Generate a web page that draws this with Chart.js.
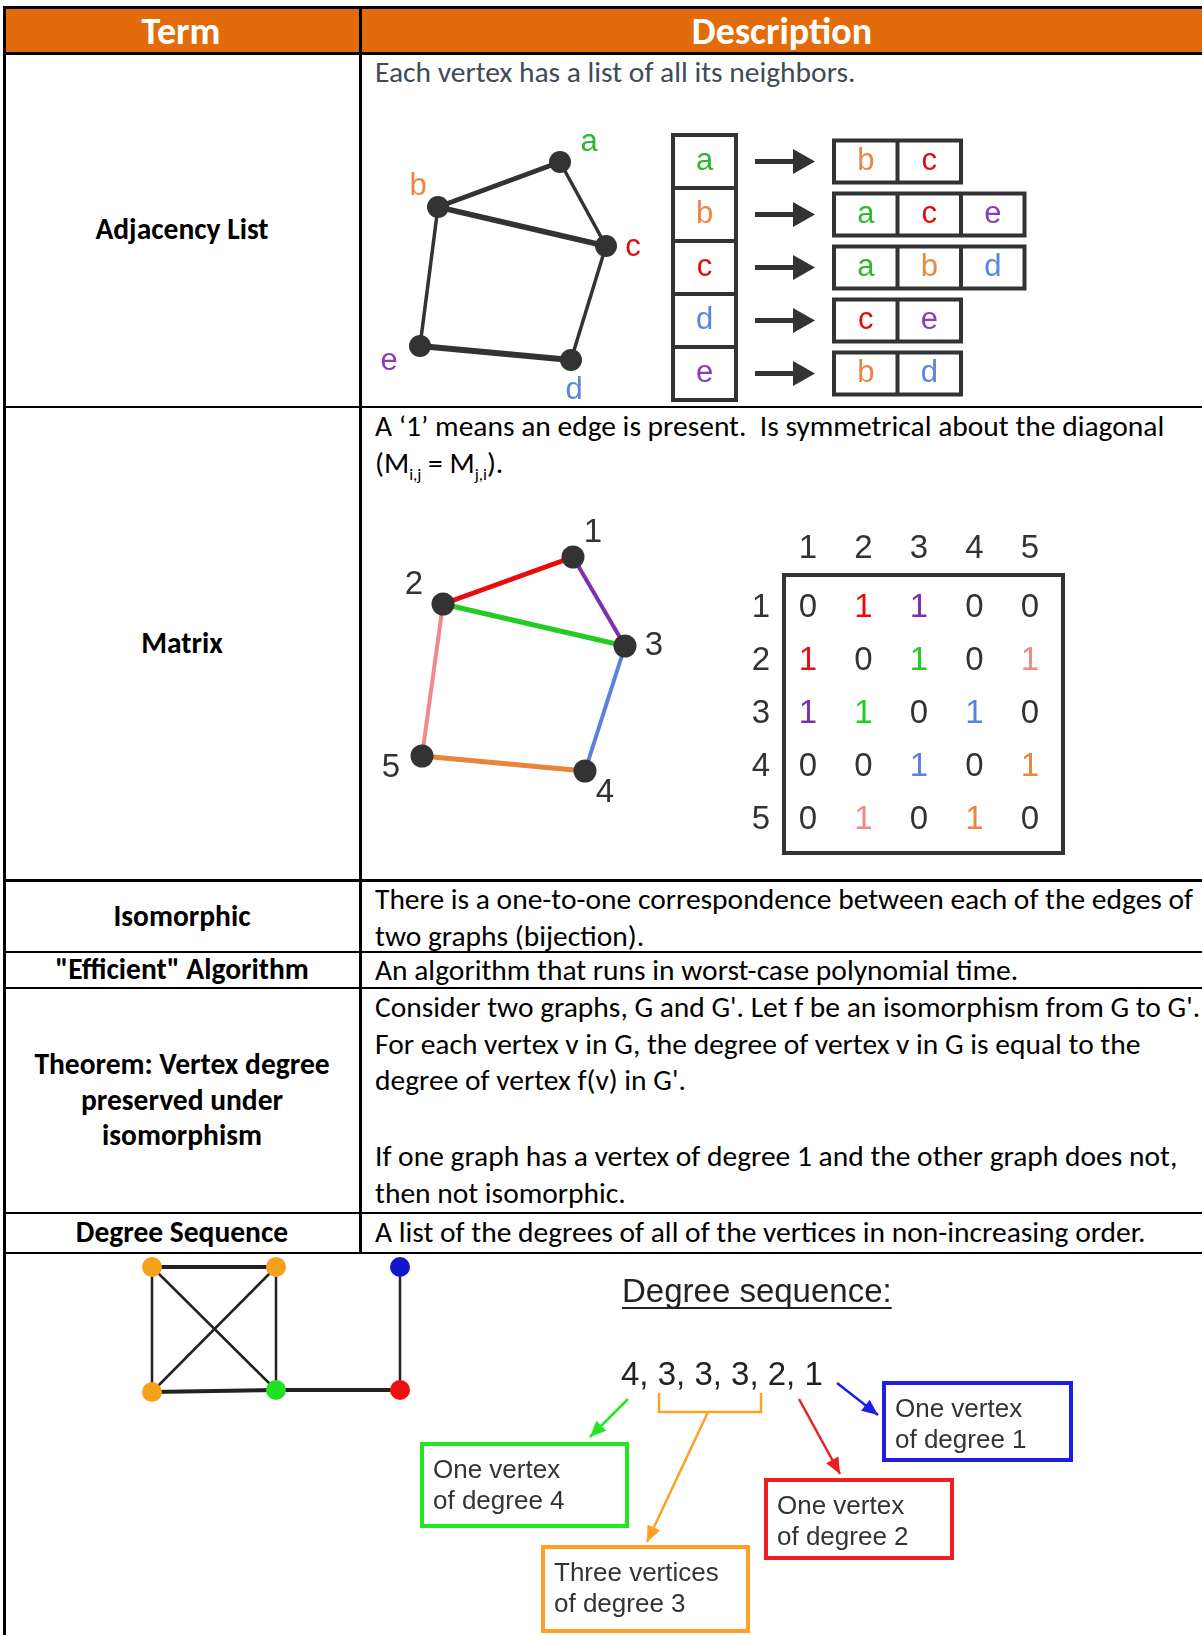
<!DOCTYPE html>
<html>
<head>
<meta charset="utf-8">
<script src="https://cdn.jsdelivr.net/npm/chart.js@4.4.1/dist/chart.umd.min.js"></script>
<style>
  body { margin: 0; background: #fff; }
  #page { position: relative; width: 1202px; height: 1635px; overflow: hidden; font-family: Carlito, Calibri, Lato, sans-serif; }
  .line { position: absolute; background: #000; }
  .header { position: absolute; left: 3px; top: 9px; width: 1199px; height: 43px; background: #E36C0A; }
  .hcell { position: absolute; top: 0; height: 43px; display: flex; align-items: center; justify-content: center; color: #fff; font-weight: bold; font-size: 38px; }
  .term { position: absolute; left: 5px; width: 354px; display: flex; align-items: center; justify-content: center; text-align: center; font-weight: bold; font-size: 29.5px; line-height: 35.5px; color: #000; }
  .desc { position: absolute; left: 375px; font-size: 29.5px; line-height: 36.5px; color: #000; white-space: nowrap; }
  .gap { height: 39.5px; }
  sub { font-size: 17px; line-height: 0; }
  canvas { position: absolute; }
</style>
</head>
<body>
<div id="page">
  <div class="header">
    <div class="hcell" style="left:0;width:356px">Term</div>
    <div class="hcell" style="left:359px;width:840px">Description</div>
  </div>

  <div class="line" style="left:3px;top:6px;width:1199px;height:3px"></div>
  <div class="line" style="left:3px;top:52px;width:1199px;height:2.5px"></div>
  <div class="line" style="left:3px;top:406px;width:1199px;height:2px"></div>
  <div class="line" style="left:3px;top:879px;width:1199px;height:2.5px"></div>
  <div class="line" style="left:3px;top:951px;width:1199px;height:2px"></div>
  <div class="line" style="left:3px;top:987px;width:1199px;height:2px"></div>
  <div class="line" style="left:3px;top:1212px;width:1199px;height:2px"></div>
  <div class="line" style="left:3px;top:1252px;width:1199px;height:2px"></div>
  <div class="line" style="left:3px;top:6px;width:2.5px;height:1629px"></div>
  <div class="line" style="left:359px;top:6px;width:2.5px;height:1248px"></div>

  <div class="term" style="top:54px;height:352px">Adjacency List</div>
  <div class="term" style="top:408px;height:471px">Matrix</div>
  <div class="term" style="top:882px;height:69px">Isomorphic</div>
  <div class="term" style="top:953px;height:34px">"Efficient" Algorithm</div>
  <div class="term" style="top:989px;height:223px">Theorem: Vertex degree<br>preserved under<br>isomorphism</div>
  <div class="term" style="top:1214px;height:38px">Degree Sequence</div>

  <div class="desc" style="top:54px;color:#404b56">Each vertex has a list of all its neighbors.</div>
  <div class="desc" style="top:408px">A ‘1’ means an edge is present.&nbsp; Is symmetrical about the diagonal<br>(M<sub>i,j</sub> = M<sub>j,i</sub>).</div>
  <div class="desc" style="top:881px">There is a one-to-one correspondence between each of the edges of<br>two graphs (bijection).</div>
  <div class="desc" style="top:952px">An algorithm that runs in worst-case polynomial time.</div>
  <div class="desc" style="top:989px">Consider two graphs, G and G'. Let f be an isomorphism from G to G'.<br>For each vertex v in G, the degree of vertex v in G is equal to the<br>degree of vertex f(v) in G'.<div class="gap"></div>If one graph has a vertex of degree 1 and the other graph does not,<br>then not isomorphic.</div>
  <div class="desc" style="top:1214px">A list of the degrees of all of the vertices in non-increasing order.</div>

  <canvas id="adjChart"></canvas>
  <canvas id="matChart"></canvas>
  <canvas id="degChart"></canvas>
</div>

<script>
const ARIAL = '"Liberation Sans", Arial, sans-serif';

// adjacency list example
const adjVertices = ['a', 'b', 'c', 'd', 'e'];
const adjVertexX = [560, 438, 606, 571, 420];
const adjVertexY = [162, 207, 246, 360, 346];
const adjEdges = [['a', 'b'], ['a', 'c'], ['b', 'c'], ['b', 'e'], ['c', 'd'], ['d', 'e']];
const adjLists = [['b', 'c'], ['a', 'c', 'e'], ['a', 'b', 'd'], ['c', 'e'], ['b', 'd']];
const letterColors = { a: '#2fb82f', b: '#ea8646', c: '#e00d0d', d: '#5b86e0', e: '#8b3ab8' };

// matrix example
const matVertices = ['1', '2', '3', '4', '5'];
const matVertexX = [573, 443, 625, 585, 422];
const matVertexY = [557, 604, 646, 771, 756];
const matEdges = [[1, 2], [1, 3], [2, 3], [2, 5], [3, 4], [4, 5]];
const matEdgeColors = ['#e80c0c', '#7e2fb0', '#22cc22', '#f08a8a', '#5b80e0', '#e8843c'];
const adjacencyMatrix = [
  [0, 1, 1, 0, 0],
  [1, 0, 1, 0, 1],
  [1, 1, 0, 1, 0],
  [0, 0, 1, 0, 1],
  [0, 1, 0, 1, 0]
];

// degree sequence example
const degVertexX = [152, 276, 152, 276, 400, 400];
const degVertexY = [1267, 1267, 1392, 1390, 1267, 1390];
const degVertexColors = ['#f7a11a', '#f7a11a', '#f7a11a', '#22e022', '#1414cc', '#ee1111'];
const degEdges = [[0, 1], [0, 2], [0, 3], [1, 2], [1, 3], [2, 3], [3, 5], [5, 4]];
const degreeSequence = [4, 3, 3, 3, 2, 1];
const degreeNotes = [['One vertex', 'of degree 4'], ['Three vertices', 'of degree 3'], ['One vertex', 'of degree 2'], ['One vertex', 'of degree 1']];
const noteColors = ['#22e622', '#ffa024', '#f01e1e', '#1e1ee6'];


// draws boxes, arrow heads and labels in data coordinates
const diagramPlugin = {
  id: 'diagram',
  afterDatasetsDraw(chart, args, opts) {
    const ctx = chart.ctx;
    const px = v => chart.scales.x.getPixelForValue(v);
    const py = v => chart.scales.y.getPixelForValue(v);
    ctx.save();
    (opts.rects || []).forEach(r => {
      ctx.strokeStyle = r.color;
      ctx.lineWidth = r.width;
      ctx.strokeRect(px(r.x0), py(r.y0), px(r.x1) - px(r.x0), py(r.y1) - py(r.y0));
    });
    (opts.heads || []).forEach(h => {
      const tx = px(h.tx), ty = py(h.ty);
      let dx = tx - px(h.fx), dy = ty - py(h.fy);
      const len = Math.hypot(dx, dy);
      dx /= len; dy /= len;
      const bx = tx - dx * h.len, by = ty - dy * h.len;
      ctx.fillStyle = h.color;
      ctx.beginPath();
      ctx.moveTo(tx, ty);
      ctx.lineTo(bx - dy * h.half, by + dx * h.half);
      ctx.lineTo(bx + dy * h.half, by - dx * h.half);
      ctx.closePath();
      ctx.fill();
    });
    (opts.texts || []).forEach(t => {
      ctx.font = t.font;
      ctx.fillStyle = t.color;
      ctx.textAlign = t.align || 'center';
      ctx.textBaseline = 'middle';
      ctx.fillText(t.text, px(t.x), py(t.y));
      if (t.underline) {
        const w = ctx.measureText(t.text).width;
        ctx.fillRect(px(t.x), py(t.y) + t.underline, w, 2);
      }
    });
    ctx.restore();
  }
};

function seg(x1, y1, x2, y2, color, width) {
  return {
    data: [{ x: x1, y: y1 }, { x: x2, y: y2 }],
    showLine: true, borderColor: color, borderWidth: width,
    pointRadius: 0, clip: false, order: 1
  };
}

function vertexSet(xs, ys, colors, r) {
  return {
    data: xs.map((x, i) => ({ x: x, y: ys[i] })),
    showLine: false, pointRadius: r, pointBackgroundColor: colors,
    pointBorderWidth: 0, clip: false, order: 0
  };
}

function makeChart(id, left, top, w, h, datasets, diagram) {
  const el = document.getElementById(id);
  el.style.left = left + 'px';
  el.style.top = top + 'px';
  el.width = w;
  el.height = h;
  return new Chart(el, {
    type: 'scatter',
    data: { datasets: datasets },
    options: {
      responsive: false,
      animation: false,
      events: [],
      layout: { padding: 0, autoPadding: false },
      scales: {
        x: { type: 'linear', display: false, min: left, max: left + w },
        y: { type: 'linear', display: false, reverse: true, min: top, max: top + h }
      },
      plugins: { legend: { display: false }, tooltip: { enabled: false }, diagram: diagram }
    },
    plugins: [diagramPlugin]
  });
}


// ---------- adjacency list ----------
const adjWidths = [5, 3.5, 5.5, 3.5, 3.5, 6];
const adjLabelOffset = { a: [29, -20], b: [-20, -21], c: [27, 1], d: [3, 30], e: [-31, 15] };
const adjSets = [vertexSet(adjVertexX, adjVertexY, '#333', 11)];
adjEdges.forEach((e, i) => {
  const p = adjVertices.indexOf(e[0]), q = adjVertices.indexOf(e[1]);
  adjSets.push(seg(adjVertexX[p], adjVertexY[p], adjVertexX[q], adjVertexY[q], '#333', adjWidths[i]));
});
const adjTexts = [], adjRects = [], adjHeads = [];
adjVertices.forEach((v, i) => {
  adjTexts.push({ text: v, x: adjVertexX[i] + adjLabelOffset[v][0], y: adjVertexY[i] + adjLabelOffset[v][1], color: letterColors[v], font: '31px ' + ARIAL });
});
// list column on the left, neighbour boxes on the right
const rowTop = 135, rowH = 53, cellW = 63.5;
adjRects.push({ x0: 673, y0: rowTop, x1: 736, y1: rowTop + rowH * adjVertices.length, color: '#333', width: 4 });
adjVertices.forEach((v, i) => {
  const cy = rowTop + rowH * i + rowH / 2;
  if (i > 0) adjSets.push(seg(673, rowTop + rowH * i, 736, rowTop + rowH * i, '#333', 4));
  adjTexts.push({ text: v, x: 704.5, y: cy, color: letterColors[v], font: '31px ' + ARIAL });
  adjSets.push(seg(755, cy, 796, cy, '#333', 5));
  adjHeads.push({ fx: 755, fy: cy, tx: 815, ty: cy, len: 22, half: 12.5, color: '#333' });
  const list = adjLists[i];
  adjRects.push({ x0: 834, y0: cy - 21, x1: 834 + cellW * list.length, y1: cy + 21, color: '#333', width: 4 });
  list.forEach((n, k) => {
    if (k > 0) adjSets.push(seg(834 + cellW * k, cy - 21, 834 + cellW * k, cy + 21, '#333', 4));
    adjTexts.push({ text: n, x: 834 + cellW * k + cellW / 2, y: cy, color: letterColors[n], font: '31px ' + ARIAL });
  });
});
makeChart('adjChart', 362, 100, 838, 306, adjSets, { rects: adjRects, heads: adjHeads, texts: adjTexts });


// ---------- adjacency matrix ----------
const matWidths = [5, 4, 5, 4, 4, 5];
const matLabelOffset = [[20, -24], [-29, -19], [29, 0], [20, 22], [-31, 12]];
const matSets = [vertexSet(matVertexX, matVertexY, '#333', 11.5)];
const edgeColorOf = {};
matEdges.forEach((e, i) => {
  const p = e[0] - 1, q = e[1] - 1;
  edgeColorOf[p + '-' + q] = edgeColorOf[q + '-' + p] = matEdgeColors[i];
  matSets.push(seg(matVertexX[p], matVertexY[p], matVertexX[q], matVertexY[q], matEdgeColors[i], matWidths[i]));
});
const matTexts = [];
matVertices.forEach((v, i) => {
  matTexts.push({ text: v, x: matVertexX[i] + matLabelOffset[i][0], y: matVertexY[i] + matLabelOffset[i][1], color: '#333', font: '33px ' + ARIAL });
});
const colX0 = 808, colStep = 55.5, rowY0 = 608, rowStep = 53;
matVertices.forEach((v, j) => {
  matTexts.push({ text: v, x: colX0 + colStep * j, y: 549, color: '#333', font: '33px ' + ARIAL });
  matTexts.push({ text: v, x: 761, y: rowY0 + rowStep * j, color: '#333', font: '33px ' + ARIAL });
});
adjacencyMatrix.forEach((row, i) => {
  row.forEach((val, j) => {
    matTexts.push({
      text: String(val), x: colX0 + colStep * j, y: rowY0 + rowStep * i,
      color: val ? edgeColorOf[i + '-' + j] : '#333', font: '33px ' + ARIAL
    });
  });
});
makeChart('matChart', 362, 480, 838, 398, matSets,
  { rects: [{ x0: 784, y0: 575, x1: 1063, y1: 853, color: '#333', width: 4 }], texts: matTexts });


// ---------- degree sequence ----------
const degSets = [vertexSet(degVertexX, degVertexY, degVertexColors, 10)];
degEdges.forEach(e => {
  const flat = Math.abs(degVertexY[e[0]] - degVertexY[e[1]]) < 5;
  degSets.push(seg(degVertexX[e[0]], degVertexY[e[0]], degVertexX[e[1]], degVertexY[e[1]], '#222', flat ? 4 : 2.5));
});
// bracket under the three 3s
degSets.push({
  data: [{ x: 659, y: 1393 }, { x: 659, y: 1412 }, { x: 761, y: 1412 }, { x: 761, y: 1393 }],
  showLine: true, borderColor: noteColors[1], borderWidth: 2.5, pointRadius: 0, clip: false, order: 1
});
const pointers = [
  [628, 1399, 590, 1437],
  [708, 1412, 647, 1542],
  [799, 1399, 840, 1474],
  [837, 1383, 878, 1415]
];
const noteBoxes = [
  [420, 1442, 629, 1528],
  [541, 1545, 750, 1633],
  [764, 1478, 954, 1560],
  [882, 1381, 1073, 1462]
];
const degHeads = [], degRects = [];
const degTexts = [
  { text: 'Degree sequence:', x: 622, y: 1293, align: 'left', color: '#222', font: '33px ' + ARIAL, underline: 14 },
  { text: degreeSequence.join(', '), x: 621, y: 1376, align: 'left', color: '#222', font: '33px ' + ARIAL }
];
pointers.forEach((p, i) => {
  degSets.push(seg(p[0], p[1], p[2], p[3], noteColors[i], 2.5));
  degHeads.push({ fx: p[0], fy: p[1], tx: p[2], ty: p[3], len: 16, half: 7, color: noteColors[i] });
});
noteBoxes.forEach((b, i) => {
  degRects.push({ x0: b[0] + 2, y0: b[1] + 2, x1: b[2] - 2, y1: b[3] - 2, color: noteColors[i], width: 4 });
  degreeNotes[i].forEach((line, k) => {
    degTexts.push({ text: line, x: b[0] + 13, y: b[1] + 29 + 31 * k, align: 'left', color: '#333', font: '26px ' + ARIAL });
  });
});
makeChart('degChart', 5, 1255, 1197, 380, degSets, { rects: degRects, heads: degHeads, texts: degTexts });
</script>
</body>
</html>
